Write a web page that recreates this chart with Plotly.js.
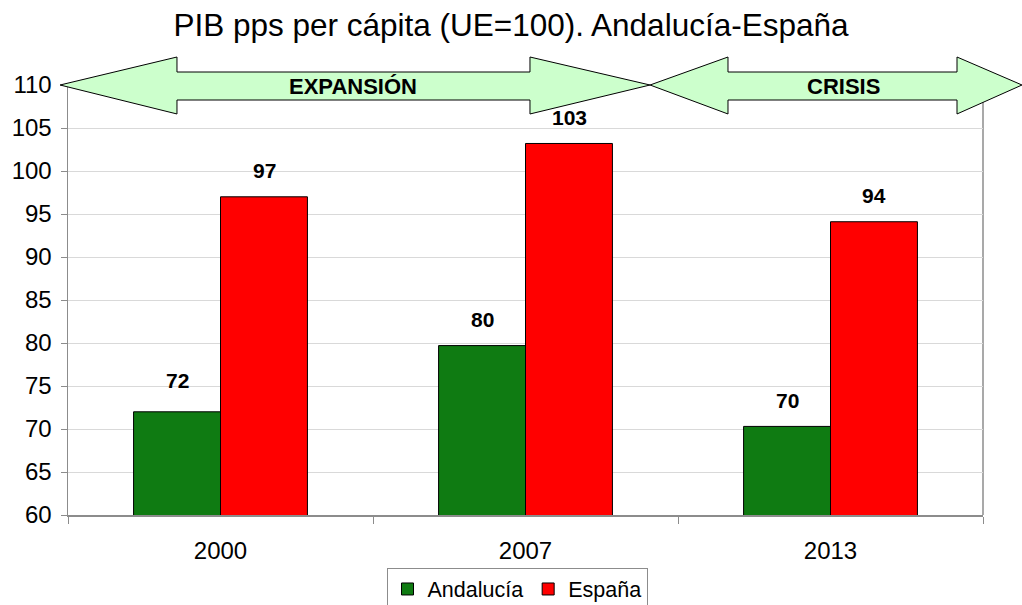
<!DOCTYPE html>
<html>
<head>
<meta charset="utf-8">
<script src="https://cdn.plot.ly/plotly-3.0.1.min.js"></script>
<style>html,body{margin:0;padding:0;background:#fff;}#chart{width:1022px;height:605px;}</style>
</head>
<body>
<div id="chart"></div>
<script>
// ---- data ----
const years = ["2000", "2007", "2013"];
const andalucia = [72, 79.7, 70.3];
const espana = [97, 103.2, 94.1];
const andaluciaLabels = ["72", "80", "70"];
const espanaLabels = ["97", "103", "94"];
const seriesNames = ["Andalucía", "España"];
const periods = ["EXPANSIÓN", "CRISIS"];
const yTicks = [60, 65, 70, 75, 80, 85, 90, 95, 100, 105, 110];

// ---- layout geometry (pixels) ----
const W = 1022, H = 605;
const M = {l: 68, r: 39, t: 85, b: 90, autoexpand: false};
const PW = W - M.l - M.r, PH = H - M.t - M.b;
const px = x => (x - M.l) / PW;
const py = y => (H - M.b - y) / PH;
function pathOf(pts) {
  return pts.map((p, i) => (i ? "L" : "M") + px(p[0]).toFixed(4) + "," + py(p[1]).toFixed(4)).join(" ") + " Z";
}
function doubleArrow(x0, h0, h1, x1) {
  const yc = 85, ht = 57, hb = 114, st = 72, sb = 100;
  return pathOf([[x0, yc], [h0, ht], [h0, st], [h1, st], [h1, ht], [x1, yc],
                 [h1, hb], [h1, sb], [h0, sb], [h0, hb]]);
}

const FONT = "Arial, 'Liberation Sans', sans-serif";
const barW = 43.5;

const traces = [
  {type: "bar", name: seriesNames[0], x: years, y: andalucia,
   marker: {color: "#0f7b12", line: {color: "#000", width: 1}}, hoverinfo: "skip"},
  {type: "bar", name: seriesNames[1], x: years, y: espana,
   marker: {color: "#ff0000", line: {color: "#000", width: 1}}, hoverinfo: "skip"}
];

const annotations = [];
years.forEach((yr, i) => {
  annotations.push({x: i, y: andalucia[i], xref: "x", yref: "y", text: andaluciaLabels[i],
    showarrow: false, xshift: -barW, yshift: i === 0 ? 31 : 26, yanchor: "middle",
    font: {family: FONT, size: 21, color: "#000", weight: "bold"}});
  annotations.push({x: i, y: espana[i], xref: "x", yref: "y", text: espanaLabels[i],
    showarrow: false, xshift: barW, yshift: 26, yanchor: "middle",
    font: {family: FONT, size: 21, color: "#000", weight: "bold"}});
});
annotations.push({x: px(353), y: py(86), xref: "paper", yref: "paper", text: "<b>" + periods[0] + "</b>",
  showarrow: false, xanchor: "center", yanchor: "middle", font: {family: FONT, size: 22, color: "#000"}});
annotations.push({x: px(843), y: py(86), xref: "paper", yref: "paper", text: "<b>" + periods[1] + "</b>",
  showarrow: false, xanchor: "center", yanchor: "middle", font: {family: FONT, size: 22, color: "#000"}});

const shapes = [
  {type: "line", xref: "paper", yref: "paper", x0: 1, x1: 1, y0: 0, y1: 1,
   line: {color: "#8c8c8c", width: 1.5}, layer: "below"},
  {type: "path", xref: "paper", yref: "paper", path: doubleArrow(60, 177, 530, 650),
   fillcolor: "#ccffcc", line: {color: "#000", width: 1}},
  {type: "path", xref: "paper", yref: "paper", path: doubleArrow(650, 728, 957, 1022),
   fillcolor: "#ccffcc", line: {color: "#000", width: 1}}
];

const layout = {
  width: W, height: H,
  margin: M,
  paper_bgcolor: "#fff", plot_bgcolor: "#fff",
  font: {family: FONT, color: "#000"},
  title: {text: "PIB pps per cápita (UE=100). Andalucía-España", font: {family: FONT, size: 31.5, color: "#000"},
          x: 0.5, xanchor: "center", y: 1 - 25 / H, yanchor: "middle", yref: "container"},
  barmode: "group", bargap: 0.43, bargroupgap: 0,
  xaxis: {type: "category", range: [-0.5, years.length - 0.5], autorange: false,
          showgrid: false, showline: true, linecolor: "#8c8c8c", linewidth: 1.5,
          ticks: "outside", tickson: "boundaries", ticklen: 7, tickcolor: "#8c8c8c", tickangle: 0,
          ticklabelstandoff: 14,
          tickfont: {family: FONT, size: 24, color: "#000"}, zeroline: false, fixedrange: true, automargin: false},
  yaxis: {range: [60, 110], autorange: false, tickvals: yTicks, ticktext: yTicks.map(String), showgrid: true, gridcolor: "#d9d9d9",
          gridwidth: 1, showline: true, linecolor: "#8c8c8c", linewidth: 1.5, ticks: "outside", ticklen: 6,
          tickcolor: "#8c8c8c", ticklabelstandoff: 4,
          tickfont: {family: FONT, size: 24, color: "#000"}, zeroline: false, fixedrange: true, automargin: false},
  legend: {orientation: "h", x: px(517), xanchor: "center", y: py(589), yanchor: "middle",
           bordercolor: "#8c8c8c", borderwidth: 1, bgcolor: "#fff",
           font: {family: FONT, size: 21.5, color: "#000"}, tracegroupgap: 0},
  annotations: annotations,
  shapes: shapes,
  showlegend: true
};

Plotly.newPlot("chart", traces, layout, {displayModeBar: false, staticPlot: true});
</script>
</body>
</html>
